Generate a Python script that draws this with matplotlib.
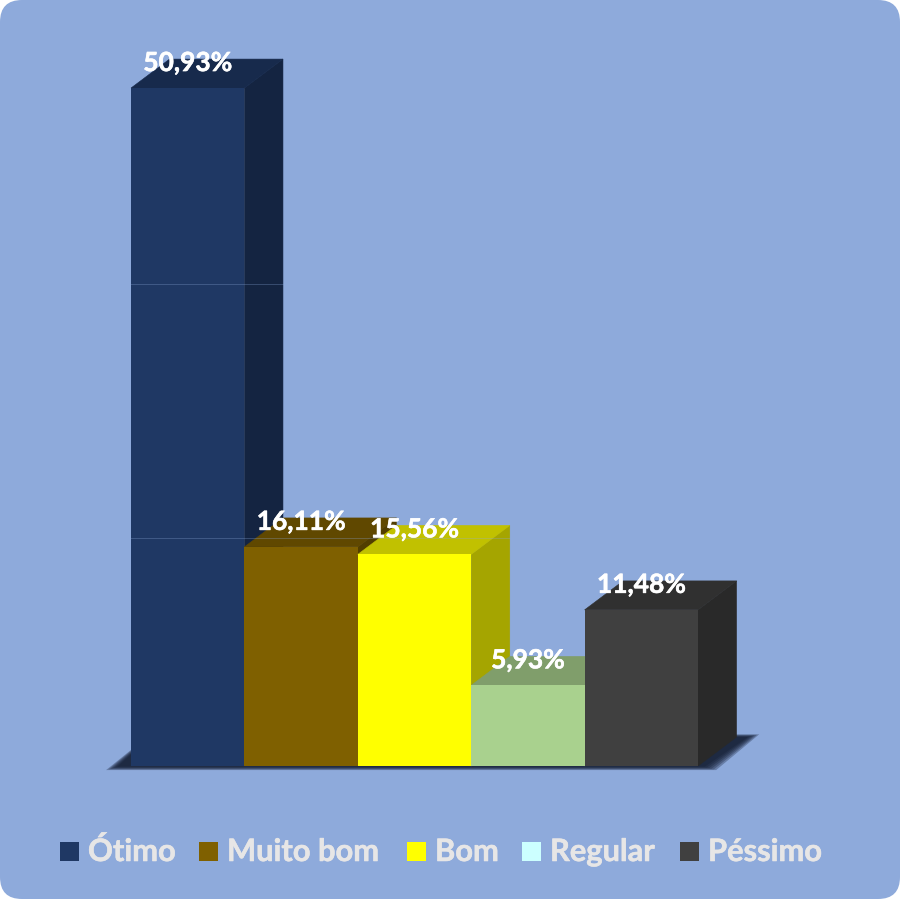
import matplotlib.pyplot as plt
import matplotlib.patheffects as pe
from matplotlib.patches import FancyBboxPatch, Rectangle

plt.rcParams['font.family'] = ['Lato', 'DejaVu Sans']

categories = ['Ótimo', 'Muito bom', 'Bom', 'Regular', 'Péssimo']
# heights, the tall bar is drawn a bit short of its label
heights = [49.85, 16.11, 15.56, 5.93, 11.48]
labels = ['50,93%', '16,11%', '15,56%', '5,93%', '11,48%']
bar_colors = ['#1F3864', '#7F6000', '#FFFF00', '#A9D18E', '#404040']
legend_colors = ['#1F3864', '#7F6000', '#FFFF00', '#CCFFFF', '#404040']
grid_levels = [16.76, 35.44]

bg = '#8EAADB'
depth_x = 0.34
depth_y = 2.13
legend_left = [60, 199, 407, 522, 680]  # pixels


def shade(color, f):
    r, g, b = [int(color[i:i + 2], 16) for i in (1, 3, 5)]
    return '#%02x%02x%02x' % (int(r * f), int(g * f), int(b * f))


fig = plt.figure(figsize=(9, 8.99), dpi=100, facecolor='white')
fig.patches.append(FancyBboxPatch((20, 20), 860, 859, boxstyle='round,pad=20,rounding_size=22',
                                  transform=None, facecolor=bg, edgecolor='none', zorder=-1))

ax = fig.add_axes([131 / 900, (899 - 766) / 899, 567 / 900, 748 / 899])
ax.set_xlim(-0.5, 4.5)
ax.set_ylim(0, 55)
ax.axis('off')

# soft shadow on the floor, stacked layers to fake the blur
n = len(categories)
for grow in [0.10, 0.08, 0.06, 0.04, 0.02, 0.0]:
    ax.fill([-0.62 - grow, -0.33, n - 0.5 + 0.44 + grow, n - 0.5 + 0.06 + grow],
            [-0.05 - grow * 2.5, depth_y + grow * 2, depth_y + grow * 2, -0.05 - grow * 2.5],
            color='#111a30', alpha=0.3, lw=0, clip_on=False, zorder=1)

# left to right so each bar sits over the side of the previous one
for i, h in enumerate(heights):
    x0, x1 = i - 0.5, i + 0.5
    c = bar_colors[i]
    z = 2 + i
    ax.fill([x1, x1 + depth_x, x1 + depth_x, x1], [0, depth_y, h + depth_y, h],
            facecolor=shade(c, 0.65), edgecolor=shade(c, 0.65), lw=0.4, clip_on=False, zorder=z)
    ax.fill([x0, x0 + depth_x, x1 + depth_x, x1], [h, h + depth_y, h + depth_y, h],
            facecolor=shade(c, 0.76), edgecolor=shade(c, 0.76), lw=0.4, clip_on=False, zorder=z)
    ax.bar(i, h, width=1, color=c, lw=0, zorder=z)

for g in grid_levels:
    ax.plot([-0.5, n - 0.5 + depth_x], [g, g], color=bg, alpha=0.3, lw=0.7, zorder=10, clip_on=False)

for i, h in enumerate(heights):
    ax.annotate(labels[i], (i, h), xytext=(0, 18), textcoords='offset points', ha='center',
                va='center', color='white', fontsize=19, fontweight='bold', zorder=12,
                annotation_clip=False,
                path_effects=[pe.withStroke(linewidth=0.4, foreground='white')])

# legend by hand, fig.legend shifts the entry that has a descender
for left, name, c in zip(legend_left, categories, legend_colors):
    fig.patches.append(Rectangle((left, 899 - 861), 19, 19, transform=None, facecolor=c, edgecolor='none'))
    fig.text((left + 28) / 900, (899 - 861) / 899, name, color='#E7E6E6', fontsize=22.2,
             fontweight='bold', va='baseline', path_effects=[pe.withStroke(linewidth=0.4, foreground='#E7E6E6')])

fig.savefig('out.png', dpi=100, facecolor='white')
